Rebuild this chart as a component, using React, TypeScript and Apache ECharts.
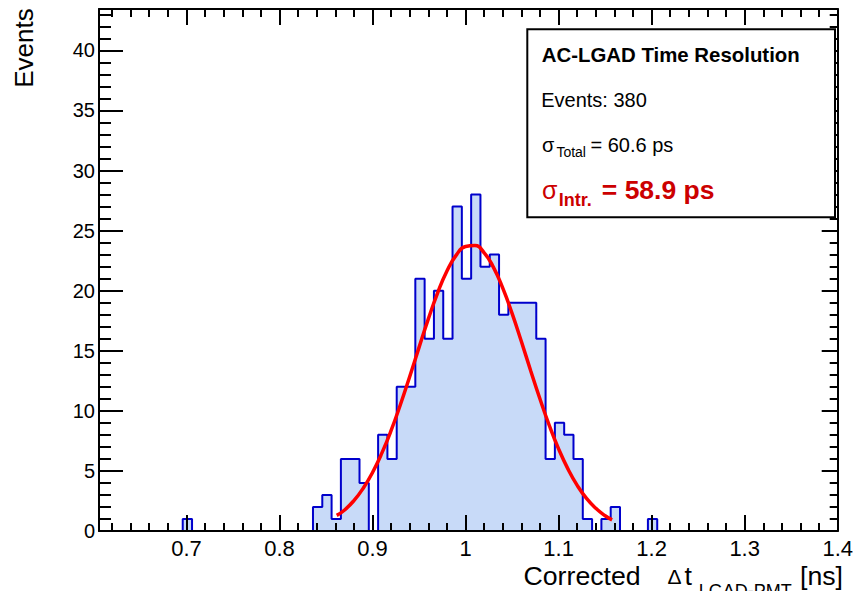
import React, { useEffect, useRef } from "react";
import * as echarts from "echarts";

// ---- data ----
const xMin = 0.606;
const xMax = 1.4;
const yMin = 0;
const yMax = 43.44;

const binLow = 0.696;
const binWidth = 0.01;
const binCounts = [
  1, 0, 0, 0, 0, 0, 0, 0, 0, 0, 0, 0, 0, 0,
  2, 3, 1, 6, 6, 4, 0, 8, 6, 12, 12, 21, 16, 20, 16, 27, 21, 28, 22, 23, 18,
  19, 19, 19, 16, 6, 9, 8, 6, 1, 0, 1, 2,
  0, 0, 0, 1,
];

const fitX = [
  0.8615, 0.87, 0.88, 0.89, 0.9, 0.91, 0.92, 0.93, 0.94, 0.95, 0.96, 0.97, 0.98, 0.99,
  1.0, 1.01, 1.02, 1.03, 1.04, 1.05, 1.06, 1.07, 1.08, 1.09, 1.1, 1.11, 1.12, 1.13,
  1.14, 1.15, 1.1575,
];
const fitY = [
  1.3, 1.75, 2.53, 3.56, 4.87, 6.48, 8.37, 10.53, 12.86, 15.28, 17.65, 19.82, 21.63, 22.96,
  23.68, 23.75, 23.15, 21.94, 20.21, 18.11, 15.77, 13.34, 10.98, 8.78, 6.83, 5.17, 3.8, 2.71,
  1.89, 1.27, 0.93,
];

const xMajorTicks = [0.7, 0.8, 0.9, 1.0, 1.1, 1.2, 1.3, 1.4];
const xMinorTicks: number[] = [];
for (let i = 31; i <= 70; i++) xMinorTicks.push(Math.round(i * 2) / 100);
const yMajorTicks = [0, 5, 10, 15, 20, 25, 30, 35, 40];
const yMinorTicks: number[] = [];
for (let i = 0; i <= 43; i++) yMinorTicks.push(i);

const FONT = "Liberation Sans";

export default function App() {
  const ref = useRef<HTMLDivElement>(null);

  useEffect(() => {
    if (!ref.current) return;
    const chart = echarts.init(ref.current, undefined, { renderer: "svg" });

    const histData: number[][] = [[binLow, 0]];
    binCounts.forEach((c, i) => histData.push([binLow + i * binWidth, c]));
    histData.push([binLow + binCounts.length * binWidth, 0]);

    const fitData = fitX.map((x, i) => [x, fitY[i]]);

    const lineStyle = { color: "#000", width: 2 };
    const xBase = {
      type: "value",
      min: xMin,
      max: xMax,
      splitLine: { show: false },
      z: 5,
    };
    const yBase = {
      type: "value",
      min: yMin,
      max: yMax,
      splitLine: { show: false },
      z: 5,
    };
    const fmt = (v: number) => String(Number(v.toFixed(1)));

    const titleText = (text: string, x: number, y: number, size: number) => ({
      type: "text",
      z: 101,
      style: {
        text,
        x,
        y,
        verticalAlign: "middle",
        font: `${size}px "${FONT}"`,
        lineHeight: 20,
        fill: "#000",
      },
    });

    const option: any = {
      animation: false,
      backgroundColor: "#fff",
      grid: { left: 99, right: 13, top: 9, bottom: 60, containLabel: false },
      xAxis: [
        {
          ...xBase,
          position: "bottom",
          axisLine: { show: true, onZero: false, lineStyle },
          axisTick: { show: true, inside: true, length: 16, lineStyle, customValues: xMajorTicks },
          axisLabel: {
            show: true,
            customValues: xMajorTicks,
            formatter: fmt,
            fontSize: 22,
            lineHeight: 18,
            color: "#000",
            fontFamily: FONT,
            margin: 8,
          },
        },
        {
          ...xBase,
          position: "bottom",
          axisLine: { show: false, onZero: false },
          axisTick: { show: true, inside: true, length: 8, lineStyle, customValues: xMinorTicks },
          axisLabel: { show: false },
        },
        {
          ...xBase,
          position: "top",
          axisLine: { show: true, onZero: false, lineStyle },
          axisTick: { show: true, inside: true, length: 16, lineStyle, customValues: xMajorTicks },
          axisLabel: { show: false },
        },
        {
          ...xBase,
          position: "top",
          axisLine: { show: false, onZero: false },
          axisTick: { show: true, inside: true, length: 8, lineStyle, customValues: xMinorTicks },
          axisLabel: { show: false },
        },
      ],
      yAxis: [
        {
          ...yBase,
          position: "left",
          axisLine: { show: true, onZero: false, lineStyle },
          axisTick: { show: true, inside: true, length: 24, lineStyle, customValues: yMajorTicks },
          axisLabel: {
            show: true,
            customValues: yMajorTicks,
            fontSize: 20,
            color: "#000",
            fontFamily: FONT,
            margin: 4,
          },
        },
        {
          ...yBase,
          position: "left",
          axisLine: { show: false, onZero: false },
          axisTick: { show: true, inside: true, length: 12, lineStyle, customValues: yMinorTicks },
          axisLabel: { show: false },
        },
        {
          ...yBase,
          position: "right",
          axisLine: { show: true, onZero: false, lineStyle },
          axisTick: { show: true, inside: true, length: 16, lineStyle, customValues: yMajorTicks },
          axisLabel: { show: false },
        },
        {
          ...yBase,
          position: "right",
          axisLine: { show: false, onZero: false },
          axisTick: { show: true, inside: true, length: 8, lineStyle, customValues: yMinorTicks },
          axisLabel: { show: false },
        },
      ],
      series: [
        {
          type: "line",
          name: "hist",
          xAxisIndex: 0,
          yAxisIndex: 0,
          data: histData,
          step: "end",
          showSymbol: false,
          symbol: "none",
          lineStyle: { color: "#0000cc", width: 2 },
          areaStyle: { color: "#c8daf8", opacity: 1 },
          z: 2,
        },
        {
          type: "line",
          name: "fit",
          xAxisIndex: 0,
          yAxisIndex: 0,
          data: fitData,
          smooth: true,
          showSymbol: false,
          symbol: "none",
          lineStyle: { color: "#ff0000", width: 3.5 },
          z: 6,
        },
      ],
      graphic: [
        {
          type: "rect",
          shape: { x: 527.3, y: 29.3, width: 307.7, height: 188 },
          style: { fill: "#fff", stroke: "#000", lineWidth: 2 },
          z: 100,
        },
        {
          type: "text",
          z: 101,
          style: {
            text: "AC-LGAD Time Resolution",
            x: 541.8,
            y: 54.8,
            verticalAlign: "middle",
            font: `bold 20.4px "${FONT}"`,
            fill: "#000",
          },
        },
        {
          type: "text",
          z: 101,
          style: {
            text: "Events: 380",
            x: 541.2,
            y: 100.4,
            verticalAlign: "middle",
            font: `20px "${FONT}"`,
            fill: "#000",
          },
        },
        {
          type: "text",
          z: 101,
          style: { text: "σ", x: 542, y: 144.8, verticalAlign: "middle", font: `20px "${FONT}"`, fill: "#000" },
        },
        {
          type: "text",
          z: 101,
          style: { text: "Total", x: 556.4, y: 152.4, verticalAlign: "middle", font: `14px "${FONT}"`, fill: "#000" },
        },
        {
          type: "text",
          z: 101,
          style: { text: "= 60.6 ps", x: 590.5, y: 144.8, verticalAlign: "middle", font: `20px "${FONT}"`, fill: "#000" },
        },
        {
          type: "text",
          z: 101,
          style: { text: "σ", x: 542, y: 189.8, verticalAlign: "middle", font: `25px "${FONT}"`, fill: "#cc0000" },
        },
        {
          type: "text",
          z: 101,
          style: { text: "Intr.", x: 558.7, y: 199.8, verticalAlign: "middle", font: `bold 18px "${FONT}"`, fill: "#cc0000" },
        },
        {
          type: "text",
          z: 101,
          style: { text: "= 58.9 ps", x: 601.8, y: 190.3, verticalAlign: "middle", font: `bold 26.5px "${FONT}"`, fill: "#cc0000" },
        },
        // y axis title
        {
          type: "text",
          x: 24,
          y: 8.3,
          rotation: Math.PI / 2,
          z: 101,
          style: { text: "Events", x: 0, y: 0, align: "right", verticalAlign: "middle", font: `26px "${FONT}"`, fill: "#000" },
        },
        // x axis title
        titleText("Corrected", 523.5, 576, 26.7),
        titleText("Δ", 667.5, 576.5, 21),
        titleText("t", 684.5, 576, 26.7),
        titleText("LGAD-PMT", 698.7, 591, 18),
        titleText("[ns]", 800, 576, 26.7),
      ],
    };

    chart.setOption(option);
    return () => chart.dispose();
  }, []);

  return (
    <div
      ref={ref}
      style={{ position: "absolute", left: 0, top: 0, width: 856, height: 591 }}
    />
  );
}
